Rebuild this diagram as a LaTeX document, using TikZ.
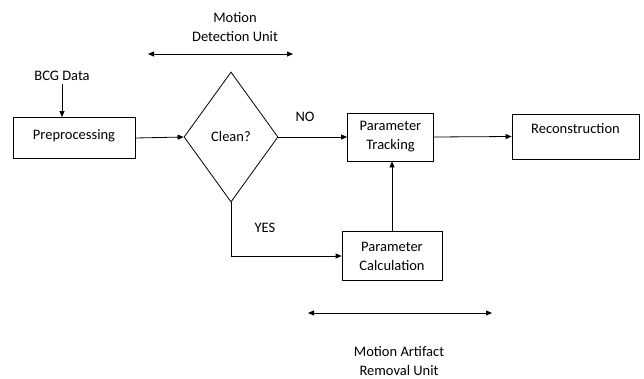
\documentclass[tikz,border=0pt]{standalone}
\usepackage{fontspec}
\setmainfont{Carlito}
\usetikzlibrary{arrows.meta,shapes.geometric}

\tikzset{
    box/.style={draw, line width=0.8pt, align=center, inner sep=2pt},
    link/.style={line width=0.8pt, -{Triangle[length=6pt,width=5pt]}},
    span/.style={line width=0.8pt, {Triangle[length=6pt,width=5pt]}-{Triangle[length=6pt,width=5pt]}}
}

\begin{document}
\begin{tikzpicture}[x=1pt, y=-1pt, font=\fontsize{14.5}{19}\selectfont]
        \useasboundingbox (0,0) rectangle (644,378);

        % blocks
        \node[box, minimum width=122, minimum height=41, text depth=6pt] (pre) at (74,138) {Preprocessing};
        \node[draw, line width=0.8pt, diamond, minimum width=94, minimum height=130, inner sep=0pt] (clean) at (231,137) {Clean?};
        \node[box, minimum width=86, minimum height=48] (track) at (390.5,137) {Parameter\\Tracking};
        \node[box, minimum width=127, minimum height=45, text depth=17pt] (recon) at (575.5,136.5) {Reconstruction};
        \node[box, minimum width=100, minimum height=49] (calc) at (392,256) {Parameter\\Calculation};

        % labels
        \node (bcg) at (62,76) {BCG Data};
        \node (no) at (305,117) {NO};
        \node (yes) at (265,228) {YES};
        \node[align=center] (mdu) at (235,27) {Motion\\Detection Unit};
        \node[align=center] (maru) at (399,361) {Motion Artifact\\Removal Unit};

        % flow
        \draw[link] (bcg.south) -- (bcg.south |- pre.north);
        \draw[link] (pre.east) -- (clean.west);
        \draw[link] (clean.east) -- (track.west);
        \draw[link] (track.east) -- (recon.west);
        \draw[link] (clean.south) -- (clean.south |- calc.west) -- (calc.west);
        \draw[link] (calc.north) -- (calc.north |- track.south);

        % unit spans
        \coordinate (mdl) at (148,54);
        \coordinate (mdr) at (293,54);
        \coordinate (mal) at (308,313);
        \coordinate (mar) at (492,313);
        \draw[span] (mdl) -- (mdr);
        \draw[span] (mal) -- (mar);

    \end{tikzpicture}
\end{document}
